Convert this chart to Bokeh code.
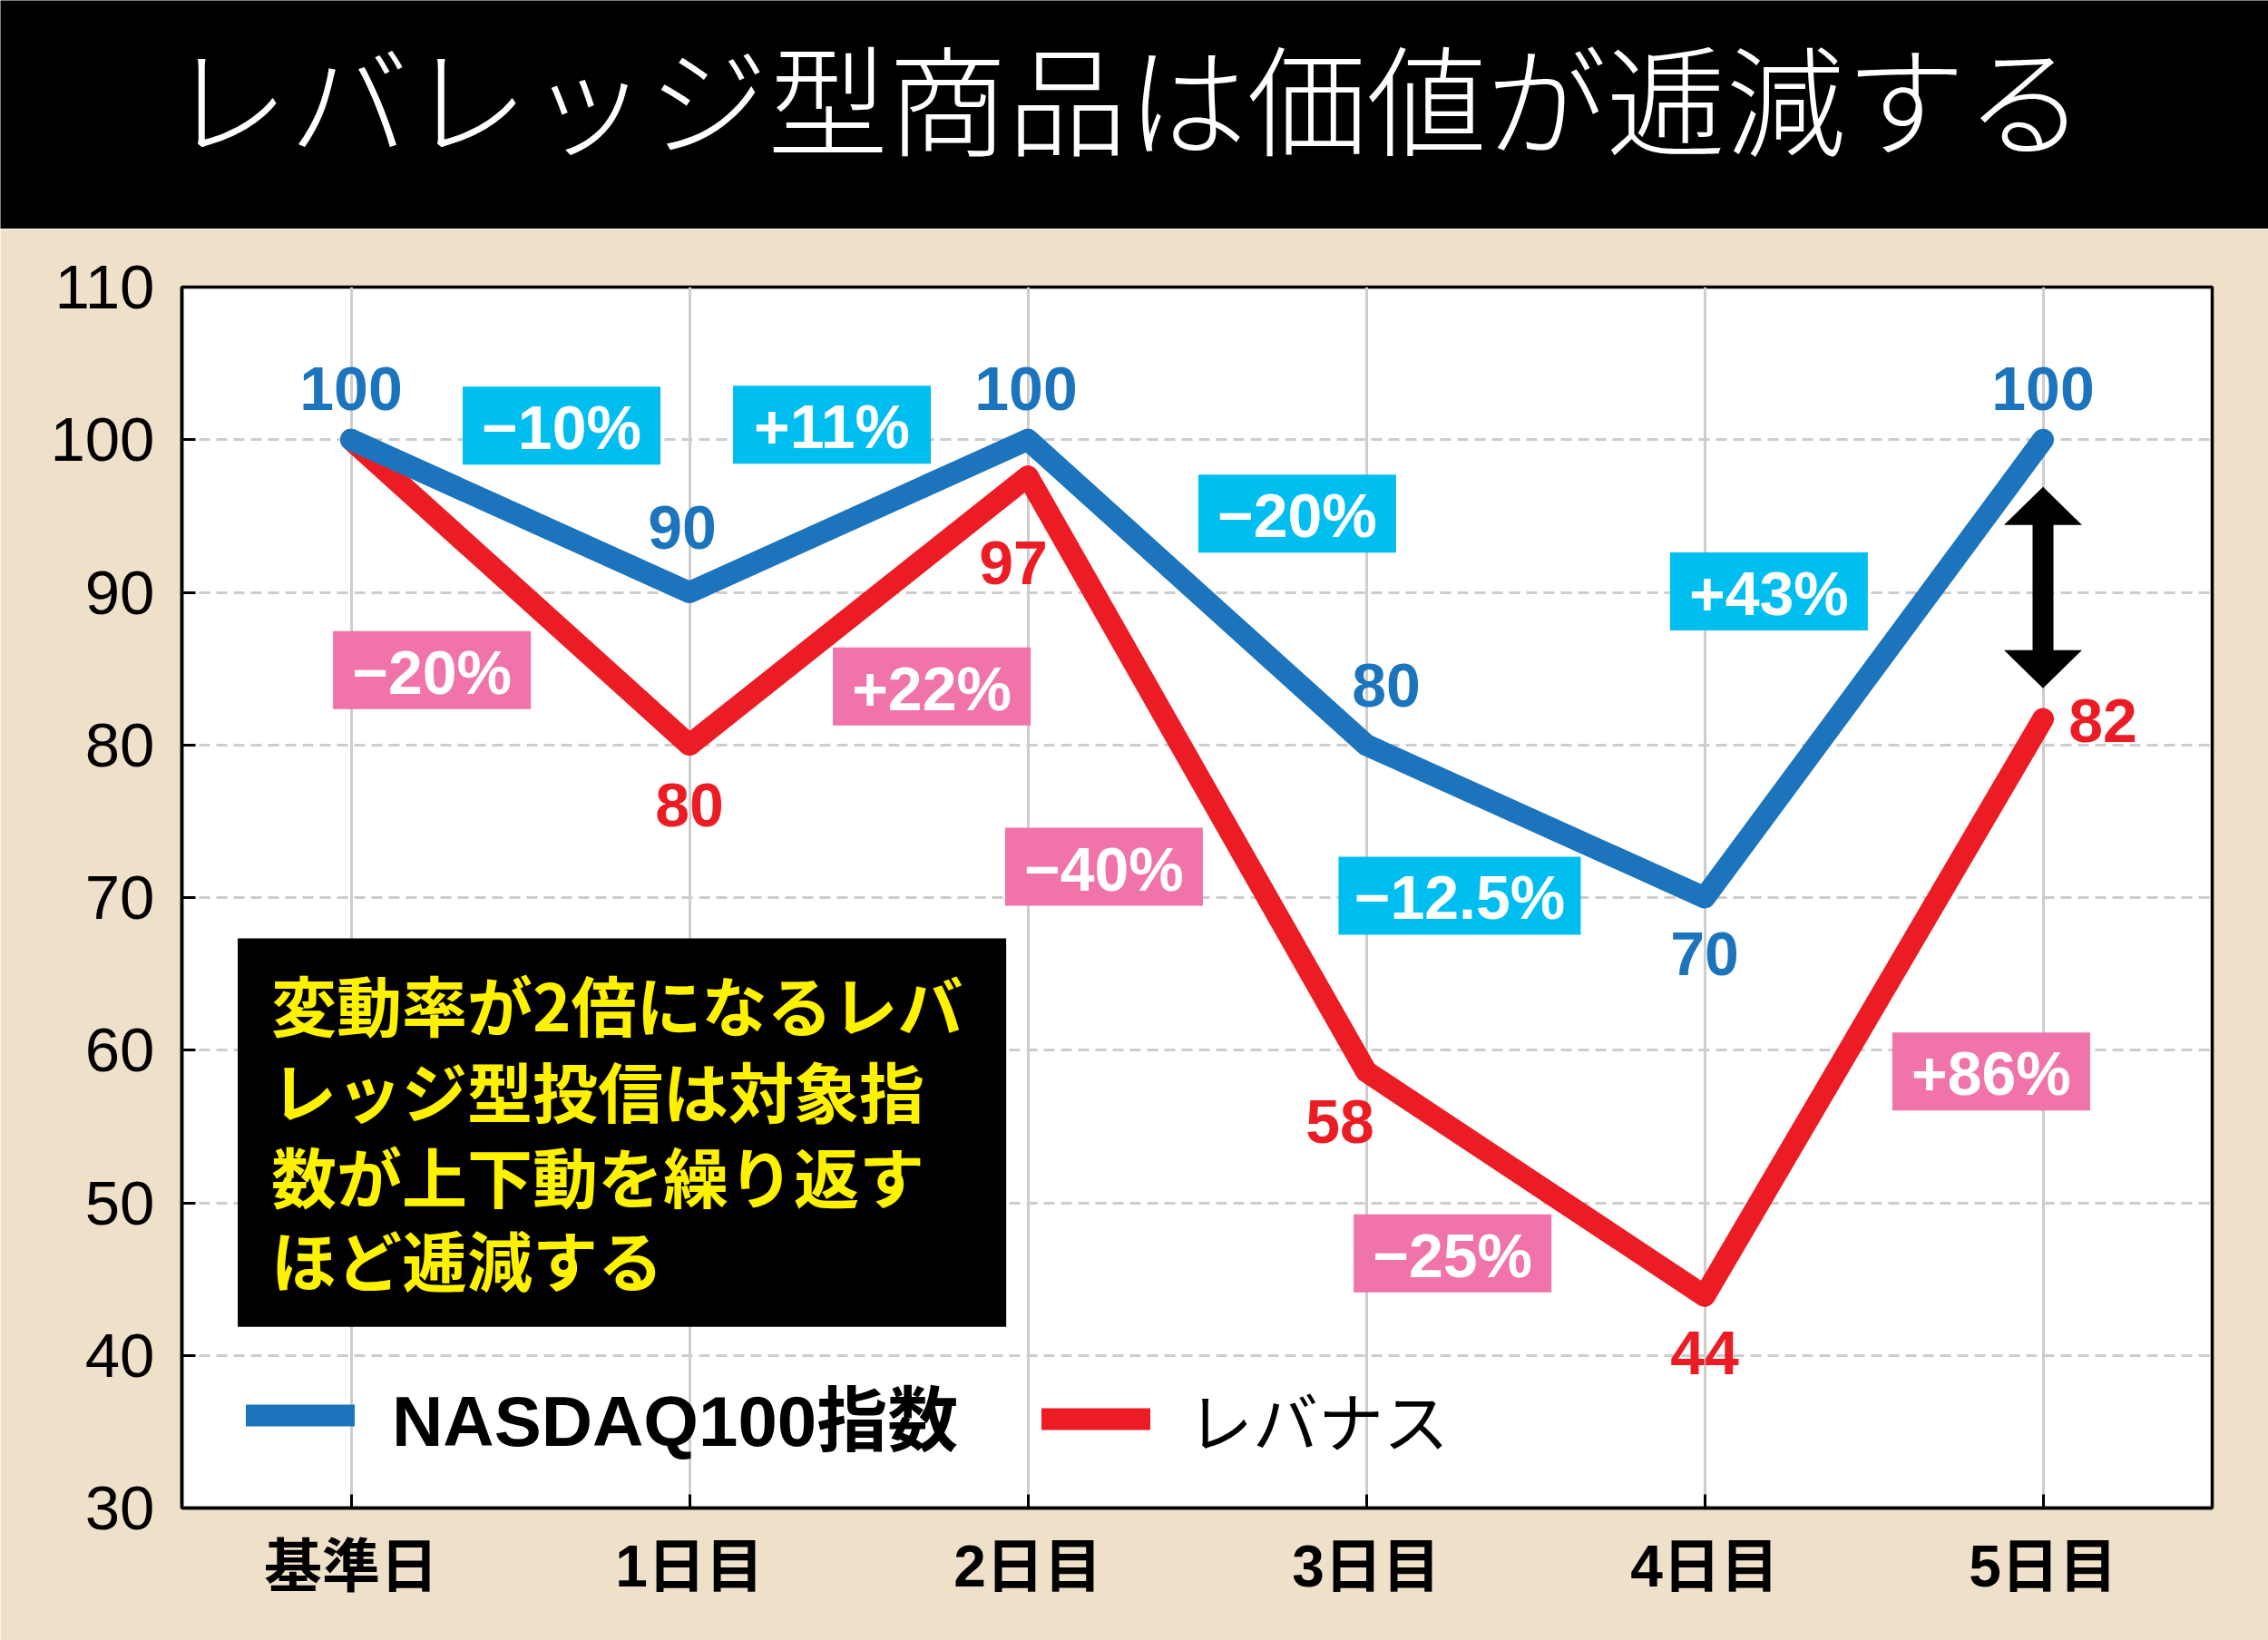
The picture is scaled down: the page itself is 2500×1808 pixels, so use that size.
from bokeh.plotting import figure
from bokeh.models import Range1d, FixedTicker, ColumnDataSource, Legend, LegendItem, Label
from bokeh.layouts import column
from bokeh.embed import file_html
from bokeh.resources import INLINE
from bokeh.core.properties import value

# ---------------- data ----------------
title_text = "レバレッジ型商品は価値が逓減する"
categories = ["基準日", "1日目", "2日目", "3日目", "4日目", "5日目"]
x_pos = [0, 1, 2, 3, 4, 5]
nasdaq = [100, 90, 100, 80, 70, 100]
levanas = [100, 80, 97.6, 58.6, 43.9, 81.7]
nasdaq_labels = ["100", "90", "100", "80", "70", "100"]
levanas_labels = ["", "80", "97", "58", "44", "82"]
nasdaq_changes = ["−10%", "+11%", "−20%", "−12.5%", "+43%"]
levanas_changes = ["−20%", "+22%", "−40%", "−25%", "+86%"]
note_lines = ["変動率が2倍になるレバ", "レッジ型投信は対象指", "数が上下動を繰り返す", "ほど逓減する"]
y_ticks = [30, 40, 50, 60, 70, 80, 90, 100, 110]
series_names = ["NASDAQ100指数", "レバナス"]

# ---------------- style ----------------
W, H = 2500, 1808
TOP_H = 252
BG = "#EFE0CA"
BLUE = "#1C75BC"
RED = "#EC1C24"
CYAN = "#00BEF0"
PINK = "#F073AA"
YELLOW = "#FFF200"
GRID = "#CDCDCD"
LAT = "Liberation Sans"
JP = "Noto Sans CJK JP"
MIX = "Liberation Sans, Noto Sans CJK JP"

blue_off = [(0, -56), (-8, -72), (-2, -56), (22, -66), (0, 62), (0, -56)]
red_off = [(0, 0), (0, 66), (-16, 95), (-29, 55), (0, 63), (66, 2)]
blue_box_pos = [(0.622, 100.92), (1.421, 100.98), (2.796, 95.16), (3.276, 70.12), (4.190, 90.06)]
red_box_pos = [(0.239, 84.90), (1.716, 83.83), (2.225, 72.02), (3.255, 46.68), (4.847, 58.61)]
blue_box_w = [218, 218, 218, 267, 218]
red_box_w = [218, 218, 218, 218, 218]
BOX_H = 86
note_box = dict(left=-0.335, right=1.936, top=67.33, bottom=41.87)
note_x = -0.236
note_y = [63.12, 57.48, 51.90, 46.38]

# ---------------- title strip ----------------
top = figure(width=W, height=TOP_H, x_range=Range1d(0, W), y_range=Range1d(0, TOP_H),
             output_backend="svg", toolbar_location=None, min_border=0,
             x_axis_location=None, y_axis_location=None,
             background_fill_color="black", border_fill_color="black",
             outline_line_color=None)
top.frame_align = False
top.grid.visible = False
top.add_layout(Label(x=1242, y=TOP_H - 104, text=title_text, text_align="center",
                     text_baseline="middle", text_color="white", text_font_size="132px",
                     text_font="Noto Sans CJK JP Light, Noto Sans CJK JP"))

# ---------------- main chart ----------------
FRAME_L, FRAME_R, FRAME_T, FRAME_B = 200, 62, 64, 146
p = figure(width=W, height=H - TOP_H, x_range=Range1d(-0.5, 5.5), y_range=Range1d(30, 110),
           output_backend="svg", toolbar_location=None,
           min_border_left=FRAME_L, min_border_right=FRAME_R,
           min_border_top=FRAME_T, min_border_bottom=FRAME_B,
           background_fill_color="white", border_fill_color=BG,
           outline_line_color="black", outline_line_width=3.5)
p.frame_align = False

frame_w = W - FRAME_L - FRAME_R
frame_h = (H - TOP_H) - FRAME_T - FRAME_B
ppx = frame_w / 6.0
ppy = frame_h / 80.0

p.xaxis.ticker = FixedTicker(ticks=x_pos)
p.xaxis.major_label_overrides = {x: c for x, c in zip(x_pos, categories)}
p.yaxis.ticker = FixedTicker(ticks=y_ticks)
for ax in (p.xaxis[0], p.yaxis[0]):
    ax.axis_line_width = 3.5
    ax.axis_line_color = "black"
    ax.major_tick_in = 15
    ax.major_tick_out = 0
    ax.major_tick_line_width = 3
    ax.minor_tick_line_color = None
p.yaxis.major_label_text_font = LAT
p.yaxis.major_label_text_font_size = "69px"
p.yaxis.major_label_text_color = "black"
p.yaxis.major_label_standoff = 30
p.xaxis.major_label_text_font = MIX
p.xaxis.major_label_text_font_style = "bold"
p.xaxis.major_label_text_font_size = "64px"
p.xaxis.major_label_text_color = "black"
p.xaxis.major_label_standoff = 28

p.xgrid.grid_line_color = GRID
p.xgrid.grid_line_width = 3
p.ygrid.grid_line_color = GRID
p.ygrid.grid_line_width = 3
p.ygrid.grid_line_dash = "12 7"

# note box
p.quad(fill_color="black", line_color=None, **note_box)
p.text(x=[note_x] * len(note_lines), y=note_y, text=note_lines, text_align="left",
       text_baseline="middle", text_color=YELLOW, text_font=value(JP),
       text_font_style="bold", text_font_size="72px")

# change boxes
bsrc = ColumnDataSource(dict(x=[b[0] for b in blue_box_pos], y=[b[1] for b in blue_box_pos],
                             w=blue_box_w, t=nasdaq_changes))
rsrc = ColumnDataSource(dict(x=[b[0] for b in red_box_pos], y=[b[1] for b in red_box_pos],
                             w=red_box_w, t=levanas_changes))
for src, col in ((bsrc, CYAN), (rsrc, PINK)):
    p.rect(x="x", y="y", width="w", height=BOX_H, width_units="screen", height_units="screen",
           source=src, fill_color=col, line_color=None)
    p.text(x="x", y="y", text="t", source=src, text_align="center", text_baseline="middle",
           text_color="white", text_font=value(LAT), text_font_style="bold",
           text_font_size="68px", y_offset=2)

# lines
r_red = p.line(x_pos, levanas, line_width=24, line_color=RED, line_cap="round", line_join="round")
r_blue = p.line(x_pos, nasdaq, line_width=24, line_color=BLUE, line_cap="round", line_join="round")

# value labels
bl = ColumnDataSource(dict(x=x_pos, y=nasdaq, t=nasdaq_labels,
                           dx=[o[0] for o in blue_off], dy=[o[1] for o in blue_off]))
keep = [i for i, t in enumerate(levanas_labels) if t]
rl = ColumnDataSource(dict(x=[x_pos[i] for i in keep], y=[levanas[i] for i in keep],
                           t=[levanas_labels[i] for i in keep],
                           dx=[red_off[i][0] for i in keep], dy=[red_off[i][1] for i in keep]))
for src, col in ((bl, BLUE), (rl, RED)):
    p.text(x="x", y="y", text="t", source=src, x_offset="dx", y_offset="dy",
           text_align="center", text_baseline="middle", text_color=col,
           text_font=value(LAT), text_font_style="bold", text_font_size="68px")

# double arrow between final values
ax0 = x_pos[-1]
yt = nasdaq[-1] - 52 / ppy
yb = levanas[-1] + 34 / ppy
hl, hw, sw = 42 / ppy, 43 / ppx, 11.5 / ppx
arrow_x = [ax0, ax0 + hw, ax0 + sw, ax0 + sw, ax0 + hw, ax0, ax0 - hw, ax0 - sw, ax0 - sw, ax0 - hw]
arrow_y = [yt, yt - hl, yt - hl, yb + hl, yb + hl, yb, yb + hl, yb + hl, yt - hl, yt - hl]
p.patch(arrow_x, arrow_y, fill_color="black", line_color=None)

# legends
common = dict(background_fill_alpha=0, border_line_color=None, padding=0, margin=0,
              glyph_width=120, glyph_height=90, label_height=90, label_standoff=41,
              label_text_color="black", label_text_baseline="middle")
leg1 = Legend(items=[LegendItem(label=series_names[0], renderers=[r_blue])], location=(71, 46),
              label_text_font=MIX, label_text_font_style="bold", label_text_font_size="78px", **common)
leg2 = Legend(items=[LegendItem(label=series_names[1], renderers=[r_red])], location=(948, 46),
              label_text_font=JP, label_text_font_style="normal", label_text_font_size="72px", **common)
p.add_layout(leg1)
p.add_layout(leg2)

layout = column(top, p)
open("out.html", "w").write(file_html(layout, INLINE))
